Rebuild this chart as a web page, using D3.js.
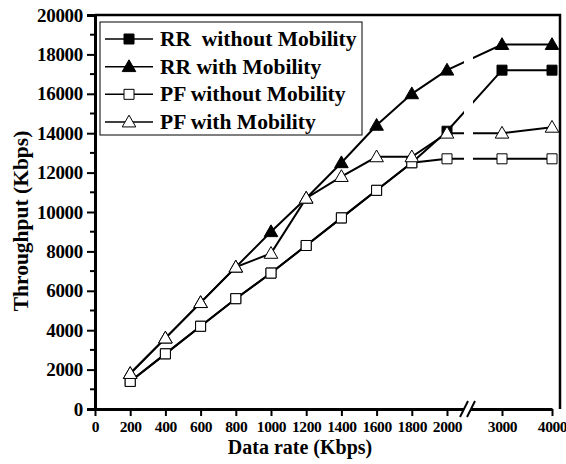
<!DOCTYPE html>
<html>
<head>
<meta charset="utf-8">
<script src="https://cdn.jsdelivr.net/npm/d3@7"></script>
<style>
  body { margin: 0; background: #fff; }
  text { font-family: "Liberation Serif", "Times New Roman", serif; font-weight: bold; fill: #000; }
</style>
</head>
<body>
<svg width="566" height="464"></svg>
<script>
const width = 566;
const height = 464;

// data rate (Kbps) on x, throughput (Kbps) on y
const dataRates = [200, 400, 600, 800, 1000, 1200, 1400, 1600, 1800, 2000, 3000, 4000];
const rrWithout = [1400, 2800, 4200, 5600, 6900, 8300, 9700, 11100, 12500, 14100, 17200, 17200];
const rrWith    = [1800, 3600, 5400, 7200, 9000, 10700, 12500, 14400, 16000, 17200, 18500, 18500];
const pfWithout = [1400, 2800, 4200, 5600, 6900, 8300, 9700, 11100, 12500, 12700, 12700, 12700];
const pfWith    = [1800, 3600, 5400, 7200, 7900, 10700, 11800, 12800, 12800, 14000, 14000, 14300];

const xTicks = [0, 200, 400, 600, 800, 1000, 1200, 1400, 1600, 1800, 2000, 3000, 4000];
const yTicks = [0, 2000, 4000, 6000, 8000, 10000, 12000, 14000, 16000, 18000, 20000];
const yMinor = [1000, 3000, 5000, 7000, 9000, 11000, 13000, 15000, 17000, 19000];

const seriesNames = ['RR  without Mobility', 'RR with Mobility', 'PF without Mobility', 'PF with Mobility'];

const plotLeft = 95, plotRight = 560, plotTop = 15, plotBottom = 409;
const breakX = 468;

const svg = d3.select('svg');

// broken x axis: linear up to 2000, then squeezed 3000..4000
const x = d3.scaleLinear()
  .domain([0, 2000, 3000, 4000])
  .range([plotLeft, 447, 502, 552]);

const y = d3.scaleLinear()
  .domain([0, 20000])
  .range([plotBottom, plotTop]);

const series = [
  { name: seriesNames[0], values: rrWithout, shape: 'square', fill: '#000' },
  { name: seriesNames[1], values: rrWith, shape: 'triangle', fill: '#000' },
  { name: seriesNames[2], values: pfWithout, shape: 'square', fill: '#fff' },
  { name: seriesNames[3], values: pfWith, shape: 'triangle', fill: '#fff' },
];

const symbolPath = shape => shape === 'square'
  ? d3.symbol(d3.symbolSquare, 100)()
  : d3.symbol(d3.symbolTriangle, 80)();

const line = d3.line()
  .x((d, i) => x(dataRates[i]))
  .y(d => y(d));

// lines first, then markers per series
series.forEach(s => {
  svg.append('path')
    .attr('d', line(s.values))
    .attr('fill', 'none')
    .attr('stroke', '#000')
    .attr('stroke-width', 2);
  svg.append('g')
    .selectAll('path')
    .data(s.values)
    .join('path')
      .attr('d', symbolPath(s.shape))
      .attr('transform', (d, i) => `translate(${x(dataRates[i])},${y(d) + (s.shape === 'triangle' ? 1 : 0)})`)
      .attr('fill', s.fill)
      .attr('stroke', '#000')
      .attr('stroke-width', 1);
});

// white gap in the lines at the axis break
svg.append('rect')
  .attr('x', breakX - 4).attr('y', plotTop + 2)
  .attr('width', 9).attr('height', plotBottom - plotTop - 4)
  .attr('fill', '#fff');

// frame: top and right
svg.append('path')
  .attr('d', `M${plotLeft},${plotTop}H${plotRight}V${plotBottom}`)
  .attr('fill', 'none')
  .attr('stroke', '#000')
  .attr('stroke-width', 2.5);

// y axis
const yAxis = svg.append('g').attr('transform', `translate(${plotLeft},0)`)
  .call(d3.axisLeft(y).tickValues(yTicks).tickFormat(d3.format('d')).tickSize(8).tickPadding(4));
yAxis.attr('font-family', null);
yAxis.select('.domain').attr('stroke-width', 3);
yAxis.selectAll('.tick line').attr('stroke-width', 2);
yAxis.selectAll('.tick text').style('font-size', '19px').style('letter-spacing', '-0.3px');
yAxis.selectAll('.minor')
  .data(yMinor)
  .join('line')
    .attr('class', 'minor')
    .attr('x1', -5).attr('x2', 0)
    .attr('y1', d => y(d)).attr('y2', d => y(d))
    .attr('stroke', '#000')
    .attr('stroke-width', 2);

// x axis
const xAxis = svg.append('g').attr('transform', `translate(0,${plotBottom})`)
  .call(d3.axisBottom(x).tickValues(xTicks).tickFormat(d3.format('d')).tickSize(7).tickSizeOuter(0).tickPadding(5));
xAxis.attr('font-family', null);
xAxis.select('.domain').attr('stroke-width', 3);
xAxis.selectAll('.tick line').attr('stroke-width', 2);
xAxis.selectAll('.tick text').style('font-size', '15.5px').style('letter-spacing', '-0.4px');

// break marks on the x axis
svg.append('rect')
  .attr('x', breakX - 4).attr('y', plotBottom - 3)
  .attr('width', 7).attr('height', 6)
  .attr('fill', '#fff');
[-4, 3].forEach(dx => {
  svg.append('line')
    .attr('x1', breakX + dx - 4).attr('y1', plotBottom + 8)
    .attr('x2', breakX + dx + 4).attr('y2', plotBottom - 8)
    .attr('stroke', '#000')
    .attr('stroke-width', 2);
});

// axis titles
svg.append('text')
  .attr('x', 300).attr('y', 454)
  .attr('text-anchor', 'middle')
  .style('font-size', '20px')
  .text('Data rate (Kbps)');

svg.append('text')
  .attr('transform', 'translate(28,221) rotate(-90)')
  .attr('text-anchor', 'middle')
  .style('font-size', '21.5px')
  .text('Throughput (Kbps)');

// legend
const legend = svg.append('g');
legend.append('rect')
  .attr('x', 100).attr('y', 22)
  .attr('width', 262).attr('height', 113)
  .attr('fill', '#fff')
  .attr('stroke', '#000')
  .attr('stroke-width', 1);

const rowY = d3.scalePoint().domain(seriesNames).range([39, 122]);

series.forEach(s => {
  const yy = rowY(s.name);
  legend.append('line')
    .attr('x1', 105).attr('x2', 153)
    .attr('y1', yy).attr('y2', yy)
    .attr('stroke', '#000')
    .attr('stroke-width', 1.5);
  legend.append('path')
    .attr('d', symbolPath(s.shape))
    .attr('transform', `translate(129,${yy + (s.shape === 'triangle' ? 1 : 0)})`)
    .attr('fill', s.fill)
    .attr('stroke', '#000')
    .attr('stroke-width', 1);
  legend.append('text')
    .attr('x', 160).attr('y', yy + 7)
    .style('font-size', '21.5px')
    .style('white-space', 'pre')
    .text(s.name);
});
</script>
</body>
</html>
